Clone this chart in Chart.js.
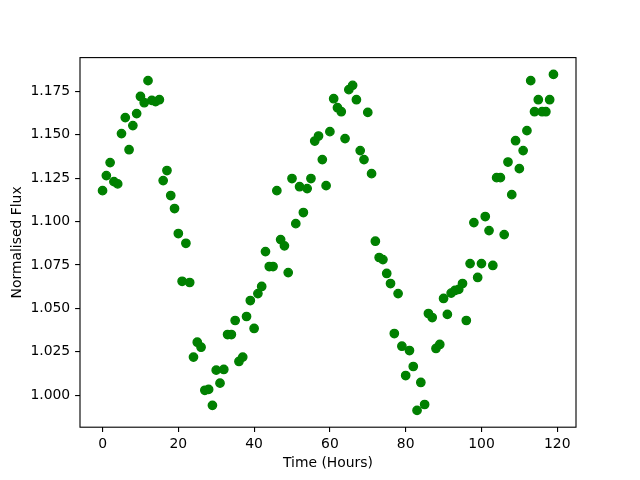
<!DOCTYPE html>
<html>
<head>
<meta charset="utf-8">
<script src="https://cdn.jsdelivr.net/npm/chart.js@4.4.1/dist/chart.umd.min.js"></script>
<style>
  html, body { margin: 0; padding: 0; background: #ffffff; }
  #wrap { width: 640px; height: 480px; }
</style>
</head>
<body>
<div id="wrap"><canvas id="c" width="640" height="480"></canvas></div>
<script>
// Time in hours (x) and normalised flux (y)
const hours = [
  0,1,2,3,4,5,6,7,8,9,10,11,12,13,14,15,16,17,18,19,
  20,21,22,23,24,25,26,27,28,29,30,31,32,33,34,35,36,37,38,39,
  40,41,42,43,44,45,46,47,48,49,50,51,52,53,54,55,56,57,58,59,
  60,61,62,63,64,65,66,67,68,69,70,71,72,73,74,75,76,77,78,79,
  80,81,82,83,84,85,86,87,88,89,90,91,92,93,94,95,96,97,98,99,
  100,101,102,103,104,105,106,107,108,109,110,111,112,113,114,115,116,117,118,119
];
const flux = [
  1.1178,1.1265,1.1340,1.1230,1.1217,1.1507,1.1599,1.1414,1.1553,1.1622,
  1.1721,1.1685,1.1812,1.1698,1.1691,1.1702,1.1236,1.1294,1.1150,1.1075,
  1.0931,1.0656,1.0875,1.0649,1.0219,1.0305,1.0276,1.0028,1.0033,0.9941,
  1.0144,1.0069,1.0148,1.0349,1.0349,1.0430,1.0194,1.0219,1.0453,1.0545,
  1.0384,1.0585,1.0626,1.0827,1.0741,1.0741,1.1178,1.0896,1.0860,1.0706,
  1.1248,1.0988,1.1201,1.1052,1.1190,1.1248,1.1464,1.1493,1.1357,1.1207,
  1.1518,1.1708,1.1656,1.1633,1.1478,1.1760,1.1785,1.1702,1.1409,1.1357,
  1.1629,1.1276,1.0887,1.0793,1.0781,1.0701,1.0643,1.0355,1.0585,1.0282,
  1.0113,1.0257,1.0165,0.9912,1.0073,0.9946,1.0470,1.0447,1.0269,1.0292,
  1.0557,1.0465,1.0588,1.0603,1.0609,1.0643,1.0430,1.0758,1.0994,1.0678,
  1.0758,1.1029,1.0948,1.0747,1.1253,1.1253,1.0925,1.1343,1.1155,1.1466,
  1.1305,1.1409,1.1524,1.1812,1.1633,1.1702,1.1633,1.1633,1.1702,1.1848
];
const xTicks = [0, 20, 40, 60, 80, 100, 120];
const yTicks = [1.000, 1.025, 1.050, 1.075, 1.100, 1.125, 1.150, 1.175];

const points = hours.map((h, i) => ({ x: h, y: flux[i] }));

// matplotlib-style 5% data margins
function margins(arr) {
  const lo = Math.min(...arr), hi = Math.max(...arr);
  const m = (hi - lo) * 0.05;
  return [lo - m, hi + m];
}
const [xMin, xMax] = margins(hours);
const [yMin, yMax] = margins(flux);

const FONT = 'DejaVu Sans';
const FS = 13.9;
const TICK_W = 1.11;

const framePlugin = {
  id: 'frame',
  afterDatasetsDraw(chart) {
    const { ctx, chartArea: a } = chart;
    ctx.save();
    ctx.strokeStyle = '#000000';
    ctx.lineWidth = TICK_W;
    ctx.strokeRect(a.left, a.top, a.right - a.left, a.bottom - a.top);
    ctx.restore();
  }
};

new Chart(document.getElementById('c'), {
  type: 'scatter',
  data: {
    datasets: [{
      data: points,
      backgroundColor: '#008000',
      borderColor: '#008000',
      borderWidth: 1.39,
      pointRadius: 4.17,
      pointHoverRadius: 4.17
    }]
  },
  options: {
    responsive: false,
    devicePixelRatio: 1,
    animation: false,
    layout: { padding: { left: 0, top: 57.6, right: 64, bottom: 0 } },
    plugins: {
      legend: { display: false },
      tooltip: { enabled: false },
      title: { display: false }
    },
    scales: {
      x: {
        type: 'linear',
        min: xMin,
        max: xMax,
        afterBuildTicks: (s) => { s.ticks = xTicks.map(v => ({ value: v })); },
        afterFit: (s) => { s.height = 52.8; },
        grid: {
          display: true,
          drawOnChartArea: false,
          drawTicks: true,
          tickLength: 4.9,
          color: '#000000',
          lineWidth: TICK_W
        },
        border: { display: false },
        ticks: {
          color: '#000000',
          font: { family: FONT, size: FS },
          padding: 3.5,
          maxRotation: 0,
          autoSkip: false,
          callback: (v) => String(v)
        },
        title: {
          display: true,
          text: 'Time (Hours)',
          color: '#000000',
          font: { family: FONT, size: FS },
          padding: { top: 0, bottom: 7.8 }
        }
      },
      y: {
        type: 'linear',
        min: yMin,
        max: yMax,
        afterBuildTicks: (s) => { s.ticks = yTicks.map(v => ({ value: v })); },
        afterFit: (s) => { s.width = 80; },
        grid: {
          display: true,
          drawOnChartArea: false,
          drawTicks: true,
          tickLength: 4.9,
          color: '#000000',
          lineWidth: TICK_W
        },
        border: { display: false },
        ticks: {
          color: '#000000',
          font: { family: FONT, size: FS },
          padding: 4.9,
          autoSkip: false,
          callback: (v) => Number(v).toFixed(3)
        },
        title: {
          display: true,
          text: 'Normalised Flux',
          color: '#000000',
          font: { family: FONT, size: FS },
          padding: { top: 9.5, bottom: 0 }
        }
      }
    }
  },
  plugins: [framePlugin]
});
</script>
</body>
</html>
